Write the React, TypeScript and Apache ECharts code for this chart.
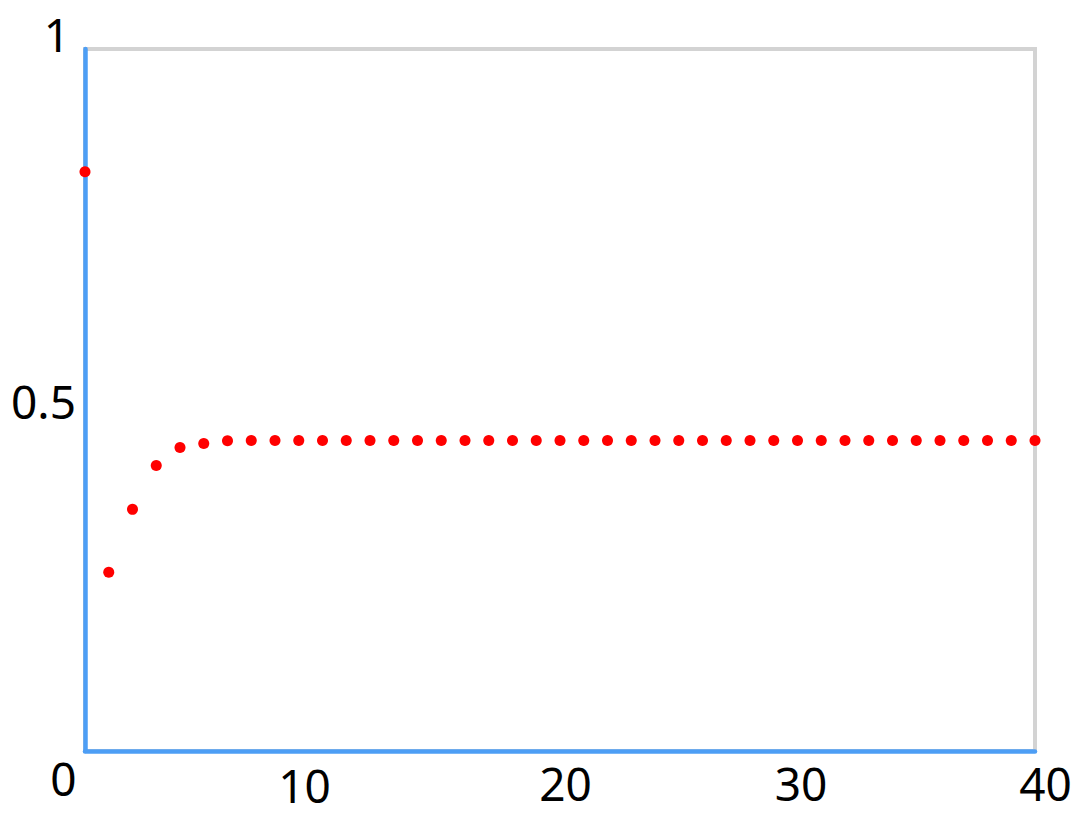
import React, { useEffect, useRef } from "react";
import * as echarts from "echarts";

// iteration index 0..40
const xValues: number[] = Array.from({ length: 41 }, (_, i) => i);
const yValues: number[] = [
  0.825, 0.2546, 0.3442, 0.4068, 0.4324, 0.4381, 0.4420, 0.4424, 0.4424, 0.4424,
  0.4424, 0.4424, 0.4424, 0.4424, 0.4424, 0.4424, 0.4424, 0.4424, 0.4424, 0.4424,
  0.4424, 0.4424, 0.4424, 0.4424, 0.4424, 0.4424, 0.4424, 0.4424, 0.4424, 0.4424,
  0.4424, 0.4424, 0.4424, 0.4424, 0.4424, 0.4424, 0.4424, 0.4424, 0.4424, 0.4424,
  0.4424,
];
const xTicks: number[] = [0, 10, 20, 30, 40];
const yTicks: number[] = [0.5, 1];

// label nudges (style only): [dx, dy]
const xLabelNudge: Record<string, [number, number]> = {
  "0": [-21.5, -8],
  "10": [-18, -1],
  "20": [5.5, -3],
  "30": [3.5, -3],
  "40": [10.5, -3],
};
const yLabelNudge: Record<string, [number, number]> = {
  "1": [6, -15],
  "0.5": [0, 1],
};

const FONT = "Noto Sans";
const FS = 46;
const X_MARGIN = 2;
const X_BASE = 10; // margin 12 equivalent

function xRich() {
  const rich: Record<string, any> = {};
  Object.keys(xLabelNudge).forEach((k, i) => {
    const [dx, dy] = xLabelNudge[k];
    const pl = dx > 0 ? 2 * dx : 0;
    const pr = dx < 0 ? -2 * dx : 0;
    rich["n" + i] = {
      fontFamily: FONT,
      fontSize: FS,
      color: "#000",
      padding: [X_BASE + dy, pr, 0, pl],
    };
  });
  return rich;
}

function yRich() {
  const rich: Record<string, any> = {};
  Object.keys(yLabelNudge).forEach((k, i) => {
    const [dx, dy] = yLabelNudge[k];
    const pr = dx < 0 ? 0 : 0;
    const pl = 0;
    const prr = dx > 0 ? dx : 0;
    rich["n" + i] = {
      fontFamily: FONT,
      fontSize: FS,
      color: "#000",
      padding: [dy > 0 ? 2 * dy : 0, prr + pr, dy < 0 ? -2 * dy : 0, pl],
    };
  });
  return rich;
}

function keyIndex(nudges: Record<string, [number, number]>, label: string) {
  return Object.keys(nudges).indexOf(label);
}

export default function App() {
  const ref = useRef<HTMLDivElement>(null);
  useEffect(() => {
    if (!ref.current) return;
    const chart = echarts.init(ref.current, undefined, { renderer: "svg" });
    const data = xValues.map((x, i) => [x, yValues[i]]);
    chart.setOption({
      animation: false,
      backgroundColor: "#fff",
      grid: {
        left: 85,
        right: 53,
        top: 49,
        bottom: 70,
        show: true,
        borderColor: "#d3d3d3",
        borderWidth: 4,
        backgroundColor: "transparent",
      },
      xAxis: {
        type: "value",
        min: 0,
        max: 40,
        interval: 10,
        axisLine: { show: true, onZero: false, lineStyle: { color: "#4d9ef5", width: 4.5 } },
        axisTick: { show: false },
        splitLine: { show: false },
        axisLabel: {
          margin: X_MARGIN,
          fontFamily: FONT,
          fontSize: FS,
          color: "#000",
          showMinLabel: true,
          showMaxLabel: true,
          formatter: (v: number) => {
            const s = String(v);
            if (!xTicks.includes(v)) return "";
            const k = keyIndex(xLabelNudge, s);
            return k >= 0 ? `{n${k}|${s}}` : s;
          },
          rich: xRich(),
        },
      },
      yAxis: {
        type: "value",
        min: 0,
        max: 1,
        interval: 0.5,
        axisLine: { show: true, onZero: false, lineStyle: { color: "#4d9ef5", width: 4.5 } },
        axisTick: { show: false },
        splitLine: { show: false },
        axisLabel: {
          margin: 9,
          fontFamily: FONT,
          fontSize: FS,
          color: "#000",
          showMinLabel: false,
          formatter: (v: number) => {
            const s = String(v);
            if (!yTicks.includes(v)) return "";
            const k = keyIndex(yLabelNudge, s);
            return k >= 0 ? `{n${k}|${s}}` : s;
          },
          rich: yRich(),
        },
      },
      series: [
        {
          type: "scatter",
          data,
          symbol: "circle",
          symbolSize: 11,
          itemStyle: { color: "#ff0000", opacity: 1 },
          clip: false,
          z: 5,
        },
      ],
    });
    return () => chart.dispose();
  }, []);
  return (
    <div
      ref={ref}
      style={{ position: "fixed", left: 0, top: 0, width: 1088, height: 821, background: "#fff" }}
    />
  );
}
